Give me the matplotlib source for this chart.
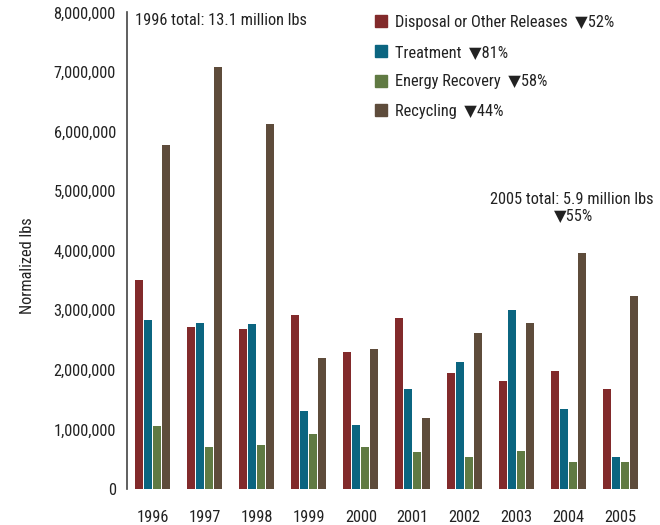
import matplotlib
matplotlib.use("Agg")
import matplotlib.pyplot as plt
from matplotlib.patches import Patch
from matplotlib.ticker import FuncFormatter
import numpy as np

plt.rcParams['font.family'] = ['Roboto Condensed', 'DejaVu Sans']

years = ["1996", "1997", "1998", "1999", "2000", "2001", "2002", "2003", "2004", "2005"]
disposal = [3.51, 2.72, 2.68, 2.92, 2.30, 2.87, 1.95, 1.81, 1.98, 1.68]
treatment = [2.84, 2.79, 2.77, 1.31, 1.08, 1.68, 2.13, 3.00, 1.34, 0.54]
energy = [1.06, 0.70, 0.74, 0.93, 0.70, 0.62, 0.54, 0.64, 0.45, 0.45]
recycling = [5.77, 7.08, 6.12, 2.20, 2.35, 1.19, 2.62, 2.79, 3.96, 3.24]

series = [
    ("Disposal or Other Releases  \u25bc52%", disposal, "#822a2b"),
    ("Treatment  \u25bc81%", treatment, "#0b6580"),
    ("Energy Recovery  \u25bc58%", energy, "#607a43"),
    ("Recycling  \u25bc44%", recycling, "#5e4c3b"),
]

fs = 11.8

fig = plt.figure(figsize=(6.6, 5.25), dpi=100)
ax = fig.add_axes([0.1924, 0.0686, 0.795, 0.9076])

x = np.arange(len(years))
step = 0.173
width = 0.154
for k, (label, vals, color) in enumerate(series):
    ax.bar(x + (k - 1.5) * step, np.array(vals) * 1e6, width=width, color=color, label=label)

ax.set_xlim(-0.5, 9.6)
ax.set_ylim(0, 8e6)
ax.set_yticks(np.arange(0, 8.1e6, 1e6))
ax.yaxis.set_major_formatter(FuncFormatter(lambda v, p: f"{int(v):,}"))
ax.set_xticks(x)
ax.set_xticklabels(years)
ax.tick_params(axis='both', length=0, labelsize=fs, colors='#222222')
ax.tick_params(axis='y', pad=8)
ax.tick_params(axis='x', pad=15)
for s in ['top', 'right', 'bottom']:
    ax.spines[s].set_visible(False)
ax.spines['left'].set_color('#444444')
ax.spines['left'].set_linewidth(1.2)

fig.text(28 / 660, 1 - 266 / 525, "Normalized lbs", rotation=90, ha='center', va='center',
         fontsize=fs, color='#222222')

ax.text(0.015, 0.983, "1996 total: 13.1 million lbs", transform=ax.transAxes,
        ha='left', va='center', fontsize=fs, color='#222222')
ax.text(8.06, 4.86e6, "2005 total: 5.9 million lbs", ha='center', va='center',
        fontsize=fs, color='#222222')
ax.text(8.1, 4.59e6, "\u25bc55%", ha='center', va='center', fontsize=fs, color='#222222')

handles = [Patch(color=c, label=l) for l, v, c in series]
ax.legend(handles=handles, loc='upper left', bbox_to_anchor=(0.4726, 0.995), frameon=False,
          borderaxespad=0, borderpad=0,
          fontsize=fs, handlelength=0.75, handleheight=0.75, handletextpad=0.5,
          labelspacing=0.9, labelcolor='#222222')

fig.savefig("out.png", dpi=100)
